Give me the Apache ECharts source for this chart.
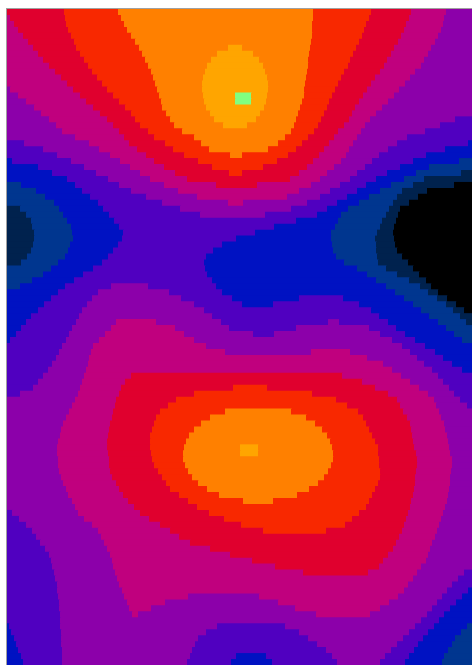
<!DOCTYPE html>
<html>
<head>
<meta charset="utf-8">
<script src="https://cdn.jsdelivr.net/npm/echarts@6/dist/echarts.min.js"></script>
<style>
  html, body { margin: 0; padding: 0; background: #fff; }
  #chart { width: 472px; height: 665px; }
</style>
</head>
<body>
<div id="chart"></div>
<script>
// contour levels, low -> high
const LEVEL_COLORS = [
  '#000000', '#00224e', '#00368f', '#0012c2', '#5000c0', '#8c00aa',
  '#c0007e', '#e0002e', '#f82800', '#ff8000', '#ffa500', '#80ff80'
];

// field extent along x, and row count (top row first)
const X_RANGE = [7, 472];
const ROW_COUNT = 110;

// each row: runs of [level, x where the run ends]
const ROWS = [
  [[7,64],[8,118],[9,313],[8,371],[7,411],[6,446],[5,472]],
  [[6,10],[7,65],[8,121],[9,313],[8,369],[7,409],[6,444],[5,472]],
  [[6,14],[7,66],[8,124],[9,312],[8,366],[7,406],[6,443],[5,472]],
  [[6,18],[7,68],[8,127],[9,312],[8,364],[7,404],[6,441],[5,472]],
  [[6,23],[7,71],[8,131],[9,312],[8,362],[7,401],[6,438],[5,472]],
  [[6,28],[7,74],[8,135],[9,311],[8,359],[7,398],[6,435],[5,472]],
  [[6,33],[7,76],[8,139],[9,228],[10,242],[9,310],[8,356],[7,394],[6,431],[5,472]],
  [[6,38],[7,80],[8,142],[9,217],[10,253],[9,309],[8,353],[7,391],[6,428],[5,472]],
  [[6,43],[7,84],[8,145],[9,211],[10,259],[9,308],[8,350],[7,387],[6,424],[5,472]],
  [[6,49],[7,88],[8,148],[9,207],[10,263],[9,308],[8,348],[7,384],[6,421],[5,472]],
  [[6,55],[7,92],[8,151],[9,205],[10,265],[9,307],[8,344],[7,380],[6,415],[5,472]],
  [[6,61],[7,97],[8,153],[9,203],[10,267],[9,306],[8,341],[7,375],[6,410],[5,472]],
  [[6,67],[7,102],[8,155],[9,202],[10,268],[9,305],[8,338],[7,371],[6,405],[5,472]],
  [[5,10],[6,73],[7,107],[8,157],[9,202],[10,268],[9,304],[8,335],[7,367],[6,399],[5,472]],
  [[5,18],[6,80],[7,113],[8,159],[9,203],[10,235],[11,251],[10,267],[9,304],[8,332],[7,363],[6,394],[5,472]],
  [[5,26],[6,86],[7,119],[8,161],[9,204],[10,235],[11,251],[10,266],[9,302],[8,329],[7,359],[6,388],[5,472]],
  [[5,34],[6,93],[7,125],[8,162],[9,206],[10,264],[9,300],[8,327],[7,355],[6,382],[5,472]],
  [[5,41],[6,100],[7,131],[8,166],[9,210],[10,260],[9,298],[8,324],[7,352],[6,376],[5,472]],
  [[5,49],[6,107],[7,135],[8,170],[9,214],[10,256],[9,296],[8,321],[7,349],[6,370],[5,455],[4,472]],
  [[5,56],[6,113],[7,140],[8,174],[9,223],[10,247],[9,294],[8,318],[7,344],[6,365],[5,440],[4,472]],
  [[5,62],[6,119],[7,148],[8,182],[9,291],[8,314],[7,338],[6,361],[5,425],[4,472]],
  [[5,75],[6,124],[7,154],[8,194],[9,285],[8,308],[7,334],[6,357],[5,407],[4,472]],
  [[4,24],[5,89],[6,129],[7,165],[8,201],[9,278],[8,302],[7,329],[6,353],[5,397],[4,468],[3,472]],
  [[4,43],[5,99],[6,137],[7,173],[8,209],[9,268],[8,296],[7,324],[6,349],[5,388],[4,445],[3,472]],
  [[4,57],[5,110],[6,146],[7,184],[8,230],[9,242],[8,288],[7,319],[6,346],[5,379],[4,426],[3,472]],
  [[3,12],[4,71],[5,120],[6,154],[7,198],[8,277],[7,313],[6,341],[5,372],[4,413],[3,459],[2,472]],
  [[3,38],[4,84],[5,130],[6,164],[7,212],[8,263],[7,307],[6,334],[5,365],[4,400],[3,429],[2,472]],
  [[3,52],[4,96],[5,140],[6,175],[7,229],[8,242],[7,299],[6,327],[5,357],[4,387],[3,416],[2,461],[1,472]],
  [[3,67],[4,108],[5,150],[6,187],[7,290],[6,320],[5,350],[4,376],[3,404],[2,424],[1,472]],
  [[2,21],[3,75],[4,119],[5,164],[6,216],[7,257],[6,311],[5,340],[4,366],[3,391],[2,413],[1,454],[0,472]],
  [[2,36],[3,82],[4,131],[5,178],[6,299],[5,330],[4,357],[3,380],[2,402],[1,427],[0,472]],
  [[2,45],[3,90],[4,146],[5,197],[6,287],[5,320],[4,347],[3,369],[2,397],[1,418],[0,472]],
  [[2,54],[3,98],[4,162],[5,228],[6,243],[5,307],[4,337],[3,359],[2,393],[1,409],[0,472]],
  [[1,20],[2,59],[3,103],[4,180],[5,291],[4,327],[3,348],[2,389],[1,400],[0,472]],
  [[1,26],[2,63],[3,109],[4,200],[5,265],[4,317],[3,341],[2,386],[1,398],[0,472]],
  [[1,31],[2,67],[3,114],[4,296],[3,338],[2,382],[1,396],[0,472]],
  [[1,32],[2,71],[3,119],[4,274],[3,335],[2,380],[1,394],[0,472]],
  [[1,34],[2,72],[3,123],[4,255],[3,331],[2,377],[1,393],[0,472]],
  [[1,34],[2,73],[3,122],[4,236],[3,331],[2,375],[1,394],[0,472]],
  [[1,33],[2,70],[3,118],[4,222],[3,332],[2,376],[1,395],[0,472]],
  [[1,31],[2,68],[3,113],[4,213],[3,333],[2,376],[1,397],[0,472]],
  [[1,27],[2,65],[3,108],[4,206],[3,336],[2,377],[1,402],[0,472]],
  [[1,21],[2,58],[3,102],[4,204],[3,344],[2,378],[1,408],[0,472]],
  [[2,51],[3,93],[4,205],[3,357],[2,386],[1,413],[0,472]],
  [[2,43],[3,83],[4,207],[3,367],[2,397],[1,419],[0,472]],
  [[2,32],[3,74],[4,212],[3,376],[2,409],[1,426],[0,472]],
  [[2,20],[3,65],[4,111],[5,148],[4,216],[3,386],[2,420],[1,431],[0,472]],
  [[3,58],[4,98],[5,169],[4,222],[3,395],[2,428],[1,438],[0,472]],
  [[3,51],[4,92],[5,181],[4,232],[3,299],[4,343],[3,404],[2,437],[1,447],[0,472]],
  [[3,44],[4,87],[5,194],[4,242],[3,273],[4,359],[3,413],[2,446],[1,456],[0,472]],
  [[3,38],[4,82],[5,204],[4,371],[3,421],[2,453],[1,464],[0,472]],
  [[3,31],[4,79],[5,212],[4,379],[3,429],[2,460],[1,472]],
  [[3,26],[4,76],[5,116],[6,156],[5,221],[4,328],[5,339],[4,388],[3,438],[2,466],[1,472]],
  [[3,21],[4,72],[5,111],[6,175],[5,229],[4,296],[5,369],[4,396],[3,446],[2,472]],
  [[3,16],[4,69],[5,105],[6,184],[5,253],[4,274],[5,380],[4,405],[3,454],[2,472]],
  [[3,10],[4,66],[5,99],[6,194],[5,392],[4,415],[3,462],[2,472]],
  [[4,62],[5,93],[6,206],[5,402],[4,425],[3,472]],
  [[4,59],[5,91],[6,225],[5,311],[6,350],[5,410],[4,435],[3,472]],
  [[4,56],[5,89],[6,367],[5,417],[4,443],[3,472]],
  [[4,52],[5,88],[6,383],[5,424],[4,452],[3,472]],
  [[4,48],[5,86],[6,392],[5,432],[4,462],[3,472]],
  [[4,43],[5,84],[6,131],[7,342],[6,401],[5,438],[4,472]],
  [[4,38],[5,82],[6,125],[7,362],[6,410],[5,443],[4,472]],
  [[4,33],[5,80],[6,121],[7,233],[8,267],[7,375],[6,419],[5,449],[4,472]],
  [[4,20],[5,78],[6,119],[7,194],[8,312],[7,388],[6,428],[5,454],[4,472]],
  [[5,75],[6,116],[7,176],[8,336],[7,397],[6,434],[5,460],[4,472]],
  [[5,72],[6,115],[7,168],[8,347],[7,400],[6,436],[5,467],[4,472]],
  [[5,69],[6,113],[7,160],[8,225],[9,291],[8,358],[7,403],[6,439],[5,472]],
  [[5,66],[6,112],[7,156],[8,210],[9,306],[8,363],[7,407],[6,441],[5,472]],
  [[5,63],[6,110],[7,154],[8,201],[9,315],[8,366],[7,410],[6,444],[5,472]],
  [[5,61],[6,109],[7,152],[8,194],[9,322],[8,369],[7,411],[6,445],[5,472]],
  [[5,60],[6,108],[7,150],[8,189],[9,327],[8,372],[7,412],[6,447],[5,472]],
  [[5,58],[6,107],[7,150],[8,186],[9,330],[8,375],[7,413],[6,448],[5,472]],
  [[5,57],[6,107],[7,150],[8,184],[9,240],[10,258],[9,332],[8,378],[7,414],[6,449],[5,472]],
  [[5,57],[6,108],[7,151],[8,183],[9,240],[10,258],[9,333],[8,378],[7,416],[6,450],[5,472]],
  [[5,58],[6,109],[7,152],[8,183],[9,333],[8,379],[7,417],[6,452],[5,472]],
  [[5,58],[6,109],[7,154],[8,185],[9,331],[8,379],[7,417],[6,452],[5,472]],
  [[5,59],[6,110],[7,158],[8,188],[9,328],[8,380],[7,416],[6,451],[5,472]],
  [[5,61],[6,112],[7,162],[8,192],[9,324],[8,380],[7,415],[6,450],[5,472]],
  [[5,63],[6,116],[7,166],[8,198],[9,318],[8,378],[7,415],[6,450],[5,472]],
  [[5,66],[6,119],[7,170],[8,207],[9,309],[8,375],[7,414],[6,449],[5,472]],
  [[5,68],[6,123],[7,179],[8,219],[9,297],[8,372],[7,413],[6,448],[5,472]],
  [[5,72],[6,128],[7,188],[8,243],[9,273],[8,369],[7,411],[6,447],[5,472]],
  [[5,75],[6,134],[7,197],[8,366],[7,410],[6,445],[5,472]],
  [[4,12],[5,78],[6,140],[7,209],[8,359],[7,408],[6,443],[5,472]],
  [[4,19],[5,84],[6,149],[7,224],[8,352],[7,406],[6,441],[5,472]],
  [[4,26],[5,92],[6,160],[7,241],[8,345],[7,404],[6,439],[5,472]],
  [[4,32],[5,98],[6,170],[7,263],[8,326],[7,402],[6,437],[5,472]],
  [[4,36],[5,101],[6,179],[7,399],[6,435],[5,472]],
  [[4,40],[5,104],[6,190],[7,396],[6,432],[5,472]],
  [[4,45],[5,107],[6,210],[7,393],[6,430],[5,472]],
  [[4,49],[5,110],[6,230],[7,388],[6,428],[5,472]],
  [[4,51],[5,112],[6,252],[7,383],[6,426],[5,472]],
  [[4,52],[5,113],[6,275],[7,379],[6,421],[5,472]],
  [[4,54],[5,115],[6,303],[7,368],[6,417],[5,464],[4,472]],
  [[4,55],[5,117],[6,413],[5,458],[4,472]],
  [[4,57],[5,119],[6,408],[5,452],[4,472]],
  [[4,57],[5,122],[6,404],[5,447],[4,468],[3,472]],
  [[4,58],[5,124],[6,188],[5,259],[6,398],[5,442],[4,462],[3,472]],
  [[4,59],[5,127],[6,165],[5,278],[6,389],[5,437],[4,456],[3,472]],
  [[4,59],[5,129],[6,151],[5,295],[6,380],[5,432],[4,450],[3,472]],
  [[4,60],[5,132],[6,138],[5,316],[6,370],[5,427],[4,444],[3,472]],
  [[4,60],[5,421],[4,439],[3,472]],
  [[3,9],[4,60],[5,217],[4,285],[5,415],[4,434],[3,467],[2,472]],
  [[3,11],[4,61],[5,206],[4,299],[5,409],[4,428],[3,461],[2,472]],
  [[3,14],[4,61],[5,198],[4,308],[5,403],[4,423],[3,455],[2,472]],
  [[3,16],[4,61],[5,195],[4,317],[5,397],[4,418],[3,452],[2,472]],
  [[3,18],[4,62],[5,192],[4,326],[5,391],[4,414],[3,448],[2,472]],
  [[3,21],[4,62],[5,190],[4,236],[3,266],[4,332],[5,385],[4,409],[3,444],[2,472]],
  [[3,23],[4,62],[5,187],[4,231],[3,272],[4,337],[5,380],[4,405],[3,442],[2,472]]
];

// flatten runs into [xStart, xEnd, row, level]
const cells = [];
ROWS.forEach((runs, r) => {
  let x0 = X_RANGE[0];
  runs.forEach(([lv, x1]) => {
    cells.push([x0, x1, r, lv]);
    x0 = x1;
  });
});

const chart = echarts.init(document.getElementById('chart'), null, { renderer: 'canvas' });

chart.setOption({
  animation: false,
  backgroundColor: '#ffffff',
  grid: {
    left: 7, top: 9, width: 465, height: 660,
    show: true, borderColor: '#a0a0a0', borderWidth: 2,
    backgroundColor: 'transparent'
  },
  xAxis: { type: 'value', min: X_RANGE[0], max: X_RANGE[1], show: false },
  yAxis: { type: 'value', min: 0, max: ROW_COUNT, inverse: true, show: false },
  visualMap: {
    type: 'piecewise',
    show: false,
    dimension: 3,
    seriesIndex: 0,
    pieces: LEVEL_COLORS.map((c, i) => ({ value: i, color: c }))
  },
  series: [{
    type: 'custom',
    clip: true,
    silent: true,
    dimensions: ['x0', 'x1', 'row', 'level'],
    encode: { x: [0, 1], y: 2 },
    data: cells,
    renderItem: (params, api) => {
      const p0 = api.coord([api.value(0), api.value(2)]);
      const p1 = api.coord([api.value(1), api.value(2) + 1]);
      // +1 overlap hides hairline seams between neighbouring runs
      return {
        type: 'rect',
        shape: { x: p0[0], y: p0[1], width: p1[0] - p0[0] + 1, height: p1[1] - p0[1] + 1 },
        style: { fill: api.visual('color') }
      };
    }
  }]
});
</script>
</body>
</html>
